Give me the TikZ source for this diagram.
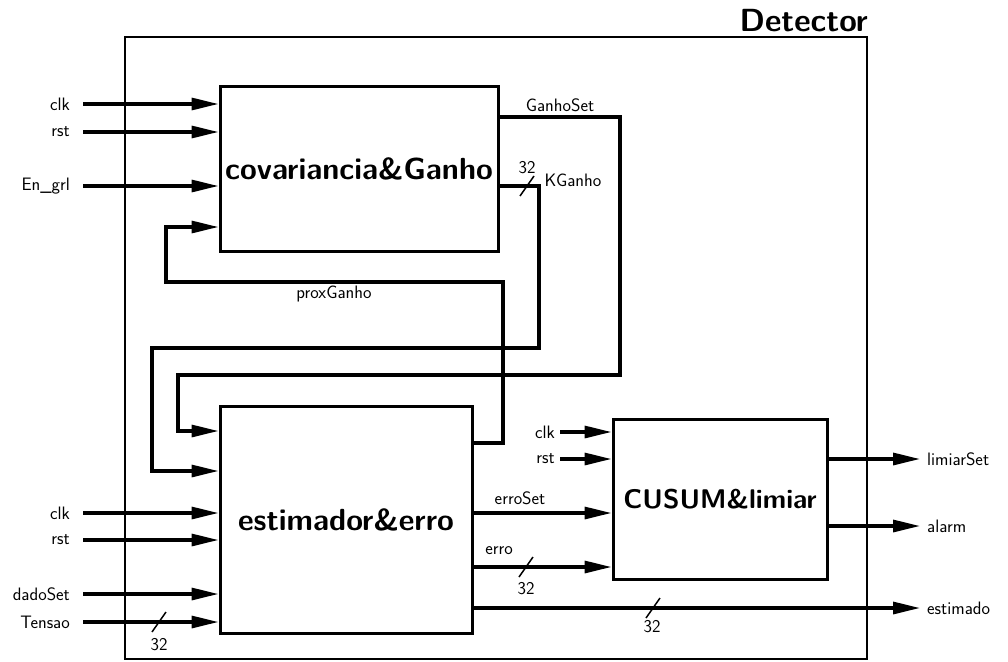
\documentclass[tikz,border=0pt]{standalone}
\usetikzlibrary{arrows.meta,calc}
\begin{document}
\begin{tikzpicture}[x=1pt,y=-1pt,
  lab/.style={font=\fontsize{18}{20}\selectfont\sffamily, inner sep=0pt},
  ttl/.style={font=\fontsize{30.5}{33}\selectfont\sffamily\bfseries},
  blk/.style={draw, line width=3pt, rectangle, inner sep=0pt},
  wire/.style={line width=3.2pt},
  arr/.style={wire, -{Triangle[length=27pt,width=12pt]}},
  busmark/.style={line width=1.5pt},
  inlab/.style={lab, anchor=east, inner xsep=13pt},
  outlab/.style={lab, anchor=west, inner xsep=7pt}]
\useasboundingbox (0,0) rectangle (1008,661);

% outer box
\node[blk, line width=2.2pt, minimum width=742pt, minimum height=622pt] (det) at (496,348) {};
\node[ttl, font=\fontsize{32}{34}\selectfont\sffamily\bfseries, anchor=base east, inner sep=0pt] (detlab) at (868,32) {Detector};

% blocks
\node[blk, ttl, minimum width=278pt, minimum height=165pt] (cov) at (359,168.5) {covariancia\&Ganho};
\node[blk, ttl, minimum width=252pt, minimum height=227pt] (est) at (346,519.5) {estimador\&erro};
\node[blk, ttl, font=\fontsize{27}{30}\selectfont\sffamily\bfseries, minimum width=214pt, minimum height=160pt] (cus) at (720,499) {CUSUM\&limiar};

% inputs of covariancia
\node[inlab] (c1) at (83,104) {clk};
\node[inlab] (c2) at (83,132) {rst};
\node[inlab] (c3) at (83,186) {En\_grl};
\foreach \n in {c1,c2,c3} \draw[arr] (\n.east) -- (\n.east -| cov.west);

% inputs of estimador
\node[inlab] (e1) at (83,513) {clk};
\node[inlab] (e2) at (83,540) {rst};
\node[inlab] (e3) at (83,594) {dadoSet};
\node[inlab] (e4) at (83,622) {Tensao};
\foreach \n in {e1,e2,e3,e4} \draw[arr] (\n.east) -- (\n.east -| est.west);
\draw[busmark] (152,632) -- (166,612);
\node[lab] at (159,645) {32};

% inputs of CUSUM
\node[lab, anchor=east, inner xsep=5pt] (u1) at (560,432) {clk};
\node[lab, anchor=east, inner xsep=5pt] (u2) at (560,459) {rst};
\foreach \n in {u1,u2} \draw[arr] (\n.east) -- (\n.east -| cus.west);

% outputs
\node[outlab] (limiar) at (920,459) {limiarSet};
\node[outlab] (alarm) at (920,526) {alarm};
\node[outlab] (estim) at (920,608) {estimado};
\draw[arr] (cus.east |- limiar.west) -- (limiar.west);
\draw[arr] (cus.east |- alarm.west) -- (alarm.west);
\draw[arr] (est.east |- estim.west) -- (estim.west);
\draw[busmark] (646,618) -- (660,598);
\node[lab] at (652,627) {32};

% erroSet and erro
\coordinate (yes) at (0,513);
\coordinate (yer) at (0,567);
\draw[arr] (est.east |- yes) -- (cus.west |- yes);
\node[lab] at (520,498) {erroSet};
\draw[arr] (est.east |- yer) -- (cus.west |- yer);
\node[lab] at (499,551) {erro};
\draw[busmark] (519,577) -- (533,557);
\node[lab] at (526,589) {32};

% GanhoSet
\coordinate (ygs) at (0,117);
\coordinate (ygsin) at (0,431);
\draw[arr] (cov.east |- ygs) -- (620,117) -- (620,375) -- (178,375) -- (178,431) -- (est.west |- ygsin);
\node[lab] at (560,105) {GanhoSet};

% KGanho
\coordinate (ykg) at (0,186);
\coordinate (ykgin) at (0,471);
\draw[arr] (cov.east |- ykg) -- (539,186) -- (539,348) -- (152,348) -- (152,471) -- (est.west |- ykgin);
\draw[busmark] (520,196) -- (534,176);
\node[lab] at (527,168) {32};
\node[lab] at (573,180) {KGanho};

% proxGanho
\coordinate (ypg) at (0,443);
\coordinate (ypgin) at (0,227);
\draw[arr] (est.east |- ypg) -- (503,443) -- (503,282) -- (166,282) -- (166,227) -- (cov.west |- ypgin);
\node[lab] at (334,294) {proxGanho};
\end{tikzpicture}
\end{document}
